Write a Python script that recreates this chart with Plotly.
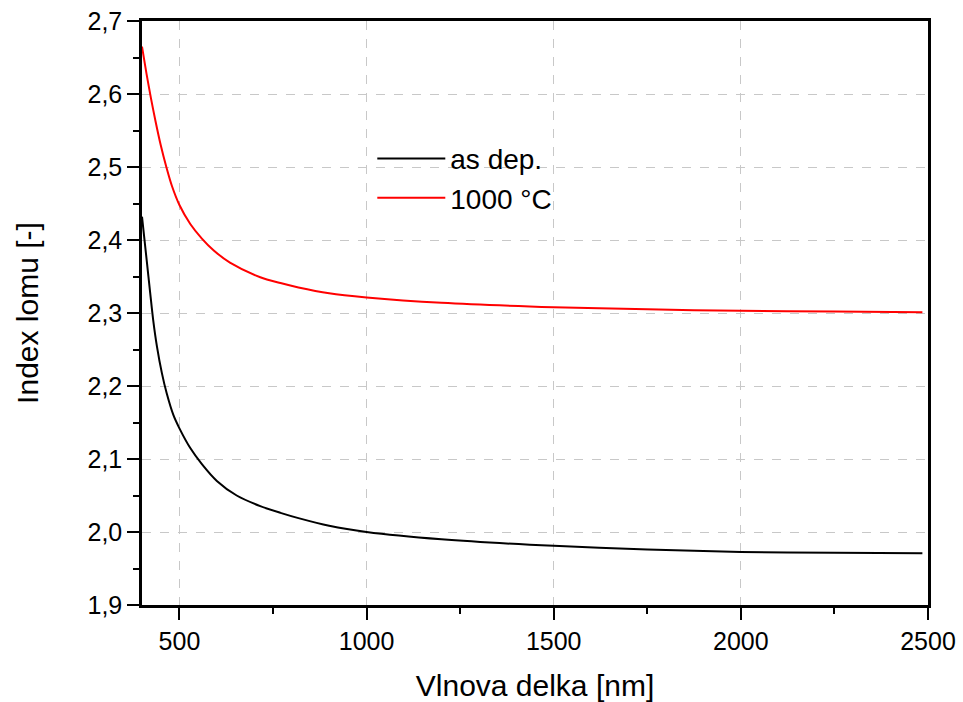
import plotly.graph_objects as go

# Wavelength [nm] and refractive index
wl_asdep = [400, 413, 422, 430, 440, 453, 466, 484, 500, 529, 560, 600, 653, 716,
            770, 818, 900, 1000, 1200, 1500, 1750, 2000, 2250, 2485]
n_asdep = [2.432, 2.370, 2.327, 2.290, 2.254, 2.218, 2.190, 2.160, 2.142, 2.115, 2.093,
           2.070, 2.050, 2.0355, 2.0262, 2.019, 2.0085, 2.000, 1.990, 1.981, 1.976,
           1.9727, 1.9715, 1.9708]

wl_1000 = [400, 412, 424, 436, 450, 465, 480, 500, 529, 560, 591, 635, 716, 770, 818,
           900, 1000, 1200, 1500, 1750, 2000, 2250, 2485]
n_1000 = [2.665, 2.628, 2.594, 2.563, 2.530, 2.500, 2.474, 2.448, 2.422, 2.402, 2.386,
          2.369, 2.349, 2.341, 2.335, 2.327, 2.3214, 2.314, 2.308, 2.305, 2.303, 2.302,
          2.301]

series_names = ["as dep.", "1000 °C"]
x_title = "Vlnova delka [nm]"
y_title = "Index lomu [-]"

FONT = "Liberation Sans, Arial, sans-serif"

fig = go.Figure()
fig.add_trace(go.Scatter(x=wl_asdep, y=n_asdep, mode="lines", name=series_names[0],
                         line=dict(color="black", width=2, shape="spline", smoothing=0.8)))
fig.add_trace(go.Scatter(x=wl_1000, y=n_1000, mode="lines", name=series_names[1],
                         line=dict(color="#ff0000", width=2, shape="spline", smoothing=0.8)))

axis_common = dict(
    showline=True, linecolor="black", linewidth=2.5, mirror=True,
    ticks="outside", ticklen=12, tickwidth=2, tickcolor="black",
    showgrid=True, gridcolor="#c8c8c8", gridwidth=1, griddash="dash",
    zeroline=False, automargin=False,
    tickfont=dict(family=FONT, size=25, color="black"),
)

fig.update_xaxes(
    range=[400, 2500], tickmode="array", tickvals=[500, 1000, 1500, 2000, 2500],
    minor=dict(tickmode="array", tickvals=[750, 1250, 1750, 2250],
               ticks="outside", ticklen=6, tickwidth=2, tickcolor="black", showgrid=False),
    title=dict(text=x_title, font=dict(family=FONT, size=30, color="black"), standoff=24),
    **axis_common,
)
fig.update_yaxes(
    range=[1.9, 2.7], dtick=0.1, tick0=1.9, tickformat=".1f",
    minor=dict(dtick=0.05, ticks="outside", ticklen=6, tickwidth=2, tickcolor="black",
               showgrid=False),
    title=dict(text=y_title, font=dict(family=FONT, size=30, color="black"), standoff=40),
    **axis_common,
)

fig.update_layout(
    width=963, height=702,
    margin=dict(l=142, r=35, t=21, b=97),
    plot_bgcolor="white", paper_bgcolor="white",
    separators=", ",
    legend=dict(x=0.293, y=0.807, xanchor="left", yanchor="top",
                bgcolor="rgba(0,0,0,0)", itemwidth=68,
                font=dict(family=FONT, size=28, color="black")),
)

fig.write_html("out.html")
